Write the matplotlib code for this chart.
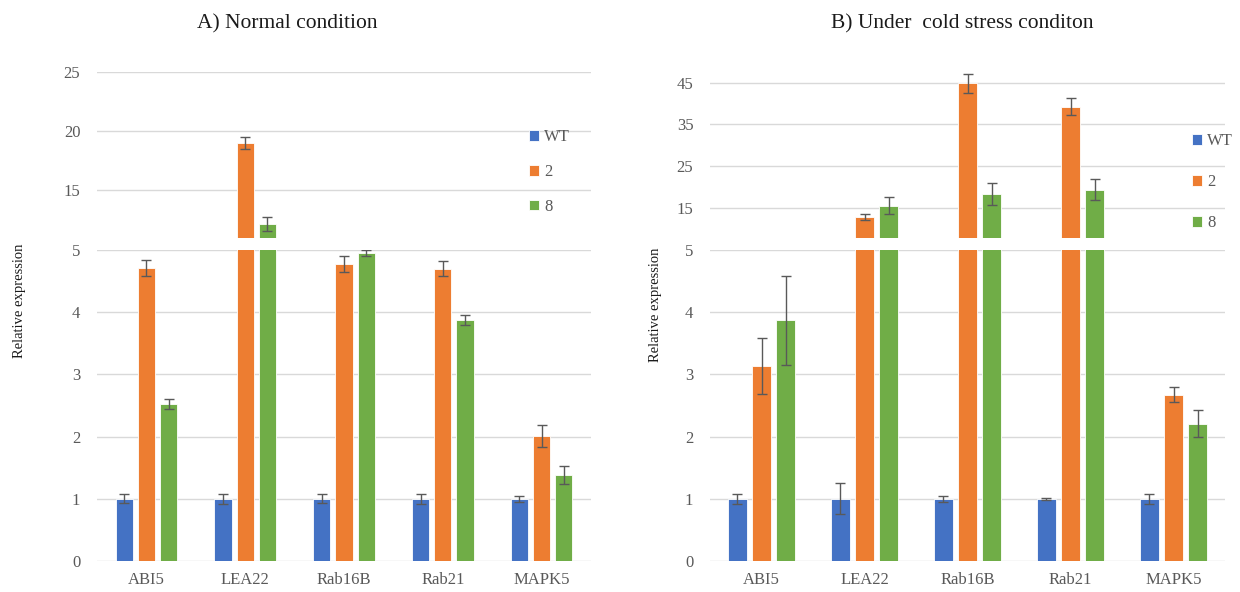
import matplotlib
matplotlib.use('Agg')
import matplotlib.pyplot as plt
import numpy as np

plt.rcParams['font.family'] = ['Liberation Serif', 'DejaVu Serif']

genes = ['ABI5', 'LEA22', 'Rab16B', 'Rab21', 'MAPK5']
series = ['WT', '2', '8']
colors = ['#4472C4', '#ED7D31', '#70AD47']

# A) normal condition
normal_wt = [1, 1, 1, 1, 1]
normal_wt_err = [0.07, 0.08, 0.07, 0.08, 0.05]
normal_2 = [4.71, 19.0, 4.77, 4.70, 2.01]
normal_2_err = [0.13, 0.53, 0.13, 0.12, 0.18]
normal_8 = [2.52, 12.1, 4.95, 3.88, 1.38]
normal_8_err = [0.08, 0.6, 0.05, 0.08, 0.14]

# B) cold stress
cold_wt = [1, 1, 1, 1, 1]
cold_wt_err = [0.08, 0.25, 0.05, 0.02, 0.08]
cold_2 = [3.13, 12.9, 44.8, 39.2, 2.67]
cold_2_err = [0.45, 0.7, 2.3, 2.0, 0.12]
cold_8 = [3.87, 15.55, 18.3, 19.3, 2.21]
cold_8_err = [0.72, 2.1, 2.6, 2.5, 0.22]

grid_c = '#d9d9d9'
text_c = '#595959'

W, H = 1240, 592
fig = plt.figure(figsize=(12.4, 5.92), dpi=100)


def panel(x0, w, up_top, up_lim, up_ticks, vals, errs, bw, step, title, title_x, ylab_xy, leg_pos, leg_sp):
    ax_lo = fig.add_axes([x0 / W, 1 - 561 / H, w / W, (561 - 250) / H])
    ax_up = fig.add_axes([x0 / W, 1 - 238 / H, w / W, (238 - up_top) / H])
    x = np.arange(len(genes))
    handles = []
    for ax in (ax_lo, ax_up):
        for i in range(3):
            b = ax.bar(x + (i - 1) * step, vals[i], bw, color=colors[i],
                       edgecolor='white', linewidth=0.6, zorder=2)
            ax.errorbar(x + (i - 1) * step, vals[i], yerr=errs[i], fmt='none',
                        ecolor='#595959', elinewidth=1, capsize=3.5, capthick=1, zorder=3)
            if ax is ax_lo:
                handles.append(b)
        ax.set_xlim(-0.5, len(genes) - 0.5)
        ax.set_axisbelow(True)
        ax.grid(axis='y', color=grid_c, linewidth=1)
        for s in ax.spines.values():
            s.set_visible(False)
        ax.tick_params(length=0, labelsize=12, colors=text_c, pad=12)
    ax_lo.set_ylim(0, 5)
    ax_lo.set_yticks([0, 1, 2, 3, 4, 5])
    ax_lo.set_xticks(x)
    ax_lo.set_xticklabels(genes)
    ax_lo.tick_params(axis='x', pad=8)
    ax_up.set_ylim(*up_lim)
    ax_up.set_yticks(up_ticks)
    ax_up.set_xticks([])
    fig.text(title_x / W, 1 - 24 / H, title, fontsize=15.5, color='#1a1a1a',
             ha='center', va='center')
    fig.text(ylab_xy[0] / W, 1 - ylab_xy[1] / H, 'Relative expression', fontsize=10.5,
             color='#1a1a1a', rotation=90, ha='center', va='center')
    fig.legend(handles, series, loc='upper left', bbox_to_anchor=leg_pos,
               frameon=False, fontsize=12, labelcolor=text_c, handlelength=0.6,
               handleheight=0.6, handletextpad=0.3, labelspacing=leg_sp, borderpad=0)
    return ax_lo, ax_up


panel(97, 494, 72, (10.93, 25), [15, 20, 25],
      [normal_wt, normal_2, normal_8], [normal_wt_err, normal_2_err, normal_8_err],
      0.175, 0.225, 'A) Normal condition', 287, (20, 301),
      (521 / W, 1 - 121 / H), 1.13)
panel(710, 515, 70, (7.8, 48), [15, 25, 35, 45],
      [cold_wt, cold_2, cold_8], [cold_wt_err, cold_2_err, cold_8_err],
      0.18, 0.235, 'B) Under  cold stress conditon', 962, (655, 305),
      (1184 / W, 1 - 125 / H), 1.5)

fig.savefig('out.png', dpi=100, facecolor='white')
